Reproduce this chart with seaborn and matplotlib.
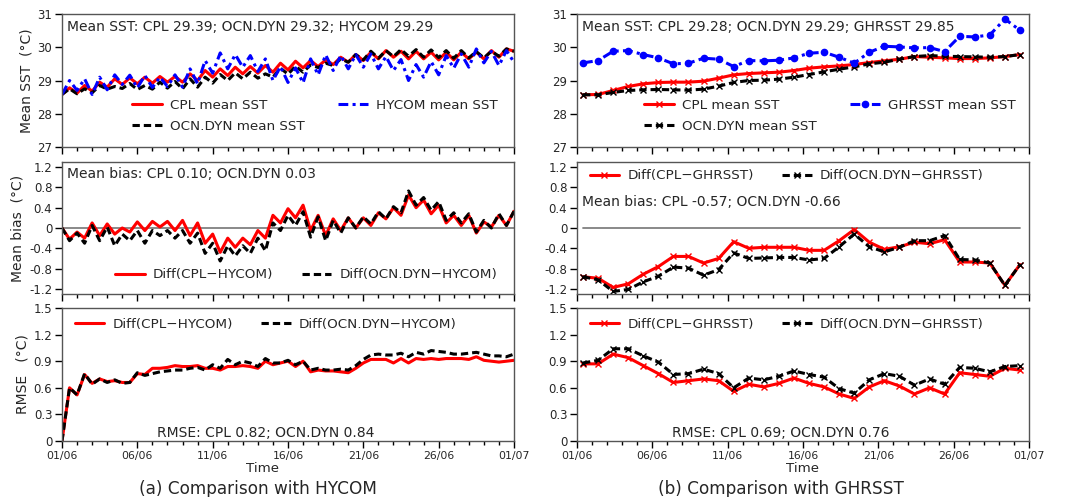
import numpy as np
import pandas as pd
import matplotlib
matplotlib.use("Agg")
import matplotlib.pyplot as plt
import seaborn as sns

# ---------------- data ----------------
# model output sampled twice a day (days since 01/06)
t_half = np.arange(61) * 0.5
# daily satellite comparison times
t_daily = np.arange(30) + 0.4

cpl_sst_h = [28.58, 28.78, 28.62, 28.85, 28.68, 28.95, 28.80, 29.05, 28.88, 29.08,
             28.90, 29.10, 28.92, 29.12, 28.95, 29.12, 28.95, 29.20, 29.00, 29.30,
             29.10, 29.35, 29.15, 29.40, 29.20, 29.42, 29.22, 29.45, 29.25, 29.52,
             29.32, 29.58, 29.38, 29.60, 29.42, 29.62, 29.48, 29.70, 29.55, 29.78,
             29.60, 29.85, 29.65, 29.90, 29.70, 29.88, 29.65, 29.88, 29.65, 29.85,
             29.62, 29.85, 29.62, 29.85, 29.65, 29.85, 29.65, 29.90, 29.70, 29.95,
             29.88]
ocn_sst_h = [28.58, 28.75, 28.60, 28.75, 28.63, 28.85, 28.74, 28.82, 28.76, 28.91,
             28.73, 28.85, 28.74, 28.95, 28.77, 28.97, 28.75, 29.05, 28.80, 29.10,
             28.92, 29.18, 29.00, 29.23, 29.05, 29.25, 29.07, 29.20, 29.10, 29.37,
             29.19, 29.43, 29.25, 29.47, 29.39, 29.52, 29.45, 29.65, 29.55, 29.78,
             29.62, 29.88, 29.67, 29.90, 29.72, 29.93, 29.73, 29.93, 29.70, 29.92,
             29.69, 29.90, 29.67, 29.90, 29.68, 29.87, 29.68, 29.88, 29.73, 29.95,
             29.88]
hycom_sst_h = [28.58, 29.00, 28.70, 29.05, 28.58, 29.10, 28.72, 29.17, 28.88, 29.16,
               28.78, 29.15, 28.79, 29.10, 28.82, 29.17, 28.80, 29.35, 28.90, 29.60,
               29.22, 29.83, 29.35, 29.78, 29.40, 29.75, 29.27, 29.65, 29.00, 29.42,
               28.94, 29.38, 28.93, 29.65, 29.17, 29.77, 29.30, 29.75, 29.35, 29.78,
               29.40, 29.80, 29.35, 29.72, 29.30, 29.63, 29.00, 29.48, 29.10, 29.57,
               29.17, 29.75, 29.37, 29.80, 29.40, 29.95, 29.53, 29.88, 29.45, 29.90,
               29.55]

bias_cpl_hycom = [0.00, -0.22, -0.08, -0.20, 0.10, -0.15, 0.08, -0.12, 0.00, -0.08,
                  0.12, -0.05, 0.13, 0.02, 0.13, -0.05, 0.15, -0.15, 0.10, -0.30,
                  -0.12, -0.48, -0.20, -0.38, -0.20, -0.33, -0.05, -0.20, 0.25, 0.10,
                  0.38, 0.20, 0.45, -0.05, 0.25, -0.15, 0.18, -0.05, 0.20, 0.00,
                  0.20, 0.05, 0.30, 0.18, 0.40, 0.25, 0.65, 0.40, 0.55, 0.28,
                  0.45, 0.10, 0.25, 0.05, 0.25, -0.10, 0.12, 0.02, 0.25, 0.05,
                  0.33]
bias_ocn_hycom = [0.00, -0.25, -0.10, -0.30, 0.05, -0.25, 0.02, -0.35, -0.12, -0.25,
                  -0.05, -0.30, -0.05, -0.15, -0.05, -0.20, -0.05, -0.30, -0.10, -0.50,
                  -0.30, -0.65, -0.35, -0.55, -0.35, -0.50, -0.20, -0.45, 0.10, -0.05,
                  0.25, 0.05, 0.32, -0.18, 0.22, -0.25, 0.15, -0.10, 0.20, 0.00,
                  0.22, 0.08, 0.32, 0.18, 0.42, 0.30, 0.73, 0.45, 0.60, 0.35,
                  0.52, 0.15, 0.30, 0.10, 0.28, -0.08, 0.15, 0.00, 0.28, 0.05,
                  0.33]

rmse_cpl_hycom = [0.00, 0.60, 0.52, 0.75, 0.65, 0.70, 0.67, 0.68, 0.66, 0.66,
                  0.76, 0.75, 0.82, 0.82, 0.83, 0.85, 0.84, 0.84, 0.85, 0.82,
                  0.82, 0.80, 0.84, 0.84, 0.85, 0.84, 0.82, 0.90, 0.86, 0.88,
                  0.90, 0.84, 0.90, 0.78, 0.80, 0.79, 0.79, 0.78, 0.77, 0.82,
                  0.88, 0.92, 0.92, 0.92, 0.88, 0.93, 0.88, 0.93, 0.92, 0.93,
                  0.92, 0.93, 0.93, 0.93, 0.92, 0.95, 0.91, 0.90, 0.89, 0.90,
                  0.91]
rmse_ocn_hycom = [0.00, 0.60, 0.52, 0.76, 0.64, 0.70, 0.66, 0.69, 0.65, 0.66,
                  0.77, 0.74, 0.76, 0.78, 0.79, 0.80, 0.80, 0.82, 0.83, 0.80,
                  0.86, 0.82, 0.92, 0.86, 0.90, 0.88, 0.84, 0.93, 0.88, 0.88,
                  0.91, 0.86, 0.90, 0.80, 0.82, 0.80, 0.80, 0.81, 0.80, 0.85,
                  0.92, 0.97, 0.98, 0.97, 0.97, 0.99, 0.95, 1.00, 0.98, 1.02,
                  1.01, 1.00, 0.98, 0.98, 0.99, 1.00, 0.98, 0.96, 0.96, 0.95,
                  0.98]

cpl_sst_d = [28.57, 28.58, 28.70, 28.82, 28.90, 28.94, 28.95, 28.95, 28.98, 29.07,
             29.17, 29.21, 29.23, 29.25, 29.30, 29.37, 29.41, 29.44, 29.48, 29.54,
             29.59, 29.64, 29.72, 29.70, 29.68, 29.66, 29.66, 29.68, 29.72, 29.78]
ocn_sst_d = [28.57, 28.57, 28.64, 28.70, 28.72, 28.73, 28.72, 28.71, 28.74, 28.83,
             28.94, 29.00, 29.01, 29.04, 29.10, 29.18, 29.26, 29.34, 29.41, 29.50,
             29.55, 29.64, 29.72, 29.75, 29.73, 29.72, 29.71, 29.70, 29.72, 29.78]
ghrsst_sst_d = [29.53, 29.60, 29.88, 29.90, 29.78, 29.68, 29.50, 29.52, 29.67, 29.64,
                29.42, 29.60, 29.59, 29.61, 29.68, 29.82, 29.85, 29.70, 29.52, 29.85,
                30.03, 30.01, 29.98, 29.99, 29.87, 30.33, 30.31, 30.37, 30.85, 30.51]

bias_cpl_ghrsst = [-0.96, -0.99, -1.17, -1.10, -0.91, -0.76, -0.56, -0.56, -0.69, -0.60,
                   -0.27, -0.40, -0.38, -0.38, -0.38, -0.44, -0.44, -0.25, -0.03, -0.28,
                   -0.42, -0.37, -0.28, -0.31, -0.23, -0.67, -0.67, -0.69, -1.13, -0.72]
bias_ocn_ghrsst = [-0.96, -1.02, -1.25, -1.21, -1.06, -0.95, -0.77, -0.79, -0.93, -0.82,
                   -0.49, -0.60, -0.59, -0.58, -0.58, -0.63, -0.60, -0.37, -0.12, -0.37,
                   -0.47, -0.38, -0.25, -0.25, -0.15, -0.62, -0.63, -0.69, -1.13, -0.72]

rmse_cpl_ghrsst = [0.87, 0.87, 0.98, 0.94, 0.85, 0.76, 0.66, 0.68, 0.70, 0.68,
                   0.56, 0.64, 0.61, 0.65, 0.71, 0.65, 0.61, 0.53, 0.48, 0.61,
                   0.68, 0.62, 0.53, 0.60, 0.53, 0.77, 0.75, 0.73, 0.82, 0.80]
rmse_ocn_ghrsst = [0.88, 0.91, 1.04, 1.04, 0.96, 0.89, 0.75, 0.76, 0.81, 0.76,
                   0.60, 0.71, 0.69, 0.73, 0.79, 0.75, 0.72, 0.59, 0.54, 0.69,
                   0.76, 0.73, 0.63, 0.70, 0.64, 0.83, 0.82, 0.78, 0.84, 0.85]

date_ticks = [0, 5, 10, 15, 20, 25, 30]
date_labels = ["01/06", "06/06", "11/06", "16/06", "21/06", "26/06", "01/07"]

# ---------------- style ----------------
sns.set_style("ticks")
plt.rcParams["font.family"] = ["DejaVu Sans"]
plt.rcParams["axes.edgecolor"] = "#555555"
plt.rcParams["axes.linewidth"] = 1.0
plt.rcParams["xtick.direction"] = "out"
plt.rcParams["ytick.direction"] = "out"

RED = "#ff0000"
BLACK = "#000000"
BLUE = "#0000ff"
DASH = (0, (2.4, 1.3))
DASHDOT = (0, (3.2, 1.4, 1.0, 1.4))
LW = 2.2
LEG = dict(frameon=False, fontsize=9.7, handlelength=2.2, borderaxespad=0.15,
           handletextpad=0.6)

fig = plt.figure(figsize=(10.72, 4.97), dpi=100)

lefts = [62 / 1072, 577 / 1072]
width = 452 / 1072
rows = [(14, 147), (162, 294), (308, 441)]
axes = [[fig.add_axes([l, 1 - b / 497, width, (b - t) / 497]) for l in lefts] for (t, b) in rows]


def line(ax, x, y, color, ls, label, marker=None, ms=None):
    df = pd.DataFrame({"t": x, "v": y})
    kw = dict(color=color, linewidth=LW, linestyle=ls, label=label, ax=ax)
    if marker is not None:
        kw.update(marker=marker, markersize=ms, markeredgewidth=1.0,
                  markeredgecolor=color, markerfacecolor=color)
    sns.lineplot(data=df, x="t", y="v", **kw)


def fmt(v, _):
    return f"{v:g}"


# row 1: mean SST
ax = axes[0][0]
line(ax, t_half, cpl_sst_h, RED, "-", "CPL mean SST")
line(ax, t_half, ocn_sst_h, BLACK, DASH, "OCN.DYN mean SST")
line(ax, t_half, hycom_sst_h, BLUE, DASHDOT, "HYCOM mean SST")
ax.text(0.011, 0.90, "Mean SST: CPL 29.39; OCN.DYN 29.32; HYCOM 29.29",
        transform=ax.transAxes, fontsize=10, va="center", ha="left")

ax = axes[0][1]
line(ax, t_daily, cpl_sst_d, RED, "-", "CPL mean SST", "x", 4)
line(ax, t_daily, ocn_sst_d, BLACK, DASH, "OCN.DYN mean SST", "x", 4)
line(ax, t_daily, ghrsst_sst_d, BLUE, DASHDOT, "GHRSST mean SST", "o", 4.5)
ax.text(0.011, 0.90, "Mean SST: CPL 29.28; OCN.DYN 29.29; GHRSST 29.85",
        transform=ax.transAxes, fontsize=10, va="center", ha="left")

for ax in axes[0]:
    ax.set_ylim(27, 31)
    ax.set_yticks([27, 28, 29, 30, 31])
    ax.legend(loc="lower center", bbox_to_anchor=(0.56, 0.05), ncol=2,
              columnspacing=2.5, labelspacing=0.6, **LEG)

# row 2: mean bias
ax = axes[1][0]
ax.plot([0, 30], [0, 0], color="#808080", lw=1.3, zorder=1)
line(ax, t_half, bias_cpl_hycom, RED, "-", "Diff(CPL\u2212HYCOM)")
line(ax, t_half, bias_ocn_hycom, BLACK, DASH, "Diff(OCN.DYN\u2212HYCOM)")
ax.text(0.011, 0.91, "Mean bias: CPL 0.10; OCN.DYN 0.03",
        transform=ax.transAxes, fontsize=10, va="center", ha="left")
ax.legend(loc="lower center", bbox_to_anchor=(0.54, 0.04), ncol=2,
          columnspacing=2.1, **LEG)

ax = axes[1][1]
ax.plot([t_daily[0], t_daily[-1]], [0, 0], color="#808080", lw=1.3, zorder=1)
line(ax, t_daily, bias_cpl_ghrsst, RED, "-", "Diff(CPL\u2212GHRSST)", "x", 4)
line(ax, t_daily, bias_ocn_ghrsst, BLACK, DASH, "Diff(OCN.DYN\u2212GHRSST)", "x", 4)
ax.text(0.011, 0.70, "Mean bias: CPL -0.57; OCN.DYN -0.66",
        transform=ax.transAxes, fontsize=10, va="center", ha="left")
ax.legend(loc="upper center", bbox_to_anchor=(0.464, 1.0), ncol=2,
          columnspacing=2.1, **LEG)

for ax in axes[1]:
    ax.set_ylim(-1.3, 1.3)
    ax.set_yticks([-1.2, -0.8, -0.4, 0, 0.4, 0.8, 1.2])

# row 3: RMSE
ax = axes[2][0]
line(ax, t_half, rmse_cpl_hycom, RED, "-", "Diff(CPL\u2212HYCOM)")
line(ax, t_half, rmse_ocn_hycom, BLACK, DASH, "Diff(OCN.DYN\u2212HYCOM)")
ax.text(0.45, 0.06, "RMSE: CPL 0.82; OCN.DYN 0.84",
        transform=ax.transAxes, fontsize=10, va="center", ha="center")
ax.legend(loc="upper center", bbox_to_anchor=(0.451, 0.98), ncol=2,
          columnspacing=2.1, **LEG)

ax = axes[2][1]
line(ax, t_daily, rmse_cpl_ghrsst, RED, "-", "Diff(CPL\u2212GHRSST)", "x", 4)
line(ax, t_daily, rmse_ocn_ghrsst, BLACK, DASH, "Diff(OCN.DYN\u2212GHRSST)", "x", 4)
ax.text(0.45, 0.06, "RMSE: CPL 0.69; OCN.DYN 0.76",
        transform=ax.transAxes, fontsize=10, va="center", ha="center")
ax.legend(loc="upper center", bbox_to_anchor=(0.464, 0.98), ncol=2,
          columnspacing=2.1, **LEG)

for ax in axes[2]:
    ax.set_ylim(0, 1.5)
    ax.set_yticks([0, 0.3, 0.6, 0.9, 1.2, 1.5])

# shared axis formatting
for r, row in enumerate(axes):
    for c, ax in enumerate(row):
        ax.set_xlim(0, 30)
        ax.set_xticks(date_ticks)
        ax.set_xticks(np.arange(0, 31, 1), minor=True)
        ax.yaxis.set_major_formatter(matplotlib.ticker.FuncFormatter(fmt))
        ax.tick_params(axis="both", which="major", length=5, width=1.0, color="black",
                       labelsize=8.5, pad=2)
        ax.tick_params(axis="x", which="minor", length=3, width=1.0, color="black")
        ax.tick_params(axis="x", labelsize=7.8)
        for s in ax.spines.values():
            s.set_visible(True)
        ax.set_ylabel("")
        if r < 2:
            ax.set_xticklabels([])
            ax.set_xlabel("")
        else:
            ax.set_xticklabels(date_labels)
            ax.set_xlabel("Time", fontsize=9.6, labelpad=1)

axes[2][0].xaxis.set_label_coords((263 - 62) / 452, -0.155)
axes[2][1].xaxis.set_label_coords(0.50, -0.155)

ylabels = ["Mean SST  (\u00b0C)", "Mean bias  (\u00b0C)", "RMSE   (\u00b0C)"]
for r in range(3):
    axes[r][0].set_ylabel(ylabels[r], fontsize=10, labelpad=3)

fig.text(258 / 1072, 1 - 489 / 497, "(a) Comparison with HYCOM", fontsize=12.2,
         ha="center", va="center")
fig.text(781 / 1072, 1 - 489 / 497, "(b) Comparison with GHRSST", fontsize=12.2,
         ha="center", va="center")

fig.savefig("out.png", dpi=100, facecolor="white")
